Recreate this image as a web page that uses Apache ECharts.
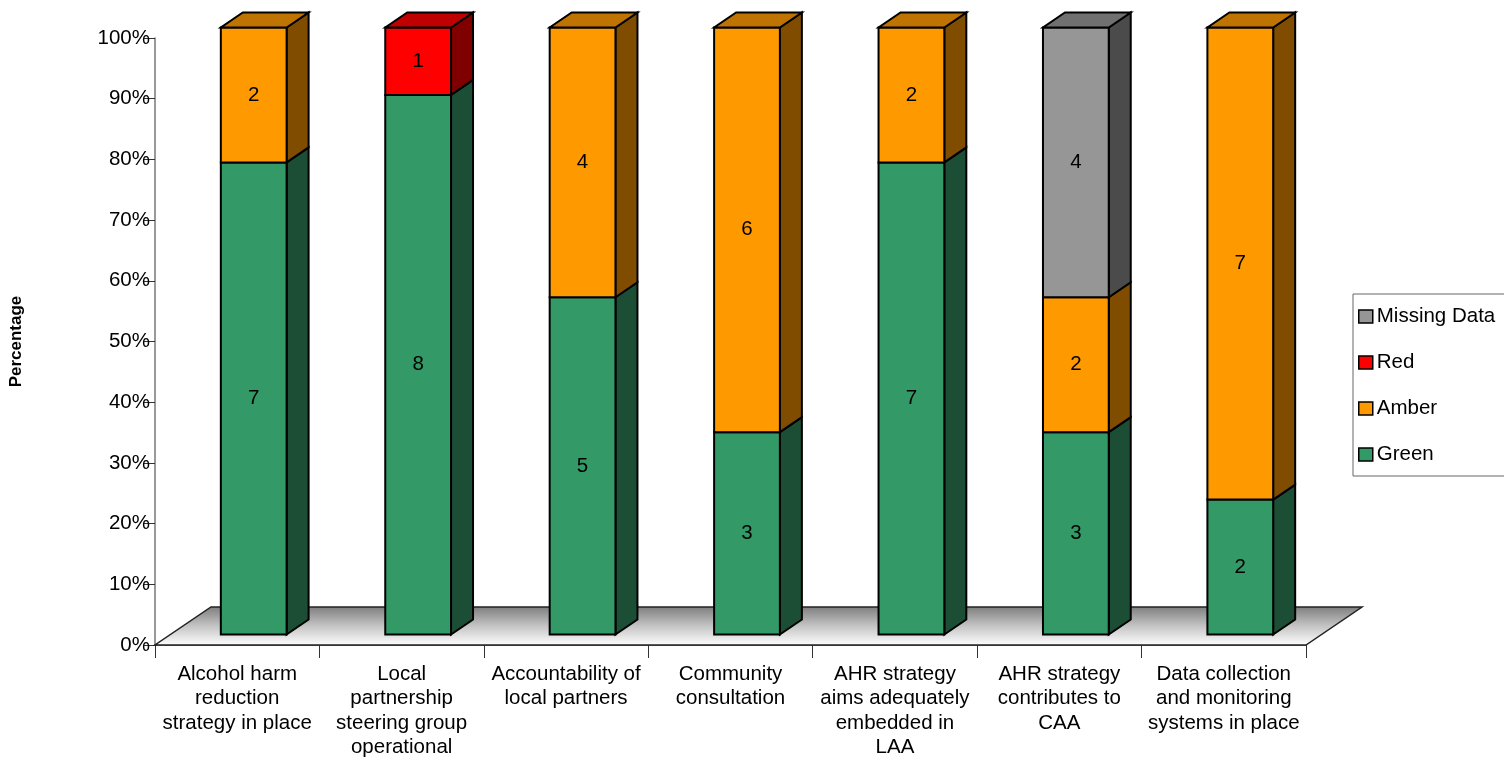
<!DOCTYPE html>
<html>
<head>
<meta charset="utf-8">
<style>html,body{margin:0;padding:0;background:#fff;overflow:hidden}#chart{width:1504px;height:760px}</style>
<script src="https://cdn.jsdelivr.net/npm/echarts@6/dist/echarts.min.js"></script>
</head>
<body>
<div id="chart"></div>
<script>
// Number of local areas in each rating, per strategy criterion
const categories = [
  "Alcohol harm\nreduction\nstrategy in place",
  "Local\npartnership\nsteering group\noperational",
  "Accountability of\nlocal partners",
  "Community\nconsultation",
  "AHR strategy\naims adequately\nembedded in\nLAA",
  "AHR strategy\ncontributes to\nCAA",
  "Data collection\nand monitoring\nsystems in place"
];
const green   = [7, 8, 5, 3, 7, 3, 2];
const amber   = [2, 0, 4, 6, 2, 2, 7];
const red     = [0, 1, 0, 0, 0, 0, 0];
const missing = [0, 0, 0, 0, 0, 4, 0];
const legendOrder = ["Missing Data", "Red", "Amber", "Green"];

const layers = [
  { name: "Green", values: green, front: "#339966", side: "#1C4D35", top: "#267350" },
  { name: "Amber", values: amber, front: "#FF9900", side: "#804D00", top: "#BF7300" },
  { name: "Red", values: red, front: "#FF0000", side: "#800000", top: "#BF0000" },
  { name: "Missing Data", values: missing, front: "#969696", side: "#4B4B4B", top: "#707070" }
];

const FONT = '"Liberation Sans", Arial, sans-serif';
const LABEL_SIZE = 20.5;
const EDGE = { stroke: "#000", lineWidth: 2, lineJoin: "miter" };
// Oblique projection used for the pseudo-3D columns and the floor
const FRONT_SHIFT = [16.5, -10.5];
const DEPTH = [22, -15];
const FLOOR_DEPTH = [56, -38];

const totals = categories.map((_, i) => layers.reduce((s, l) => s + l.values[i], 0));

function share(layerIndex, i, upTo) {
  let sum = 0;
  for (let k = 0; k <= upTo; k++) sum += layers[k].values[i];
  return sum / totals[i] * 100;
}

function polygon(points, fill, extra) {
  return { type: "polygon", shape: { points }, style: Object.assign({ fill }, EDGE, extra || {}) };
}

function columnSegment(layerIndex) {
  const layer = layers[layerIndex];
  return function (params, api) {
    const i = api.value(0);
    const count = layer.values[i];
    if (!count) return null;
    const lowShare = layerIndex ? share(layerIndex, i, layerIndex - 1) : 0;
    const highShare = share(layerIndex, i, layerIndex);
    const base = api.coord([i, lowShare]);
    const head = api.coord([i, highShare]);
    const half = api.size([1, 0])[0] * 0.2;
    const x0 = base[0] + FRONT_SHIFT[0] - half;
    const x1 = base[0] + FRONT_SHIFT[0] + half;
    const yLow = base[1] + FRONT_SHIFT[1];
    const yHigh = head[1] + FRONT_SHIFT[1];
    const children = [
      polygon([[x1, yLow], [x1 + DEPTH[0], yLow + DEPTH[1]], [x1 + DEPTH[0], yHigh + DEPTH[1]], [x1, yHigh]], layer.side),
      polygon([[x0, yLow], [x1, yLow], [x1, yHigh], [x0, yHigh]], layer.front)
    ];
    if (highShare >= 99.999) {
      children.push(polygon([[x0, yHigh], [x1, yHigh], [x1 + DEPTH[0], yHigh + DEPTH[1]], [x0 + DEPTH[0], yHigh + DEPTH[1]]], layer.top));
    }
    children.push({
      type: "text",
      style: {
        text: String(count), x: (x0 + x1) / 2, y: (yLow + yHigh) / 2,
        align: "center", verticalAlign: "middle",
        fill: "#000", font: `${LABEL_SIZE}px ${FONT}`
      }
    });
    return { type: "group", children };
  };
}

function floor(params) {
  const c = params.coordSys;
  const left = c.x, right = c.x + c.width, y = c.y + c.height;
  const pts = [[left, y], [right, y], [right + FLOOR_DEPTH[0], y + FLOOR_DEPTH[1]], [left + FLOOR_DEPTH[0], y + FLOOR_DEPTH[1]]];
  return {
    type: "polygon",
    shape: { points: pts },
    style: {
      stroke: "#222", lineWidth: 1.5,
      fill: new echarts.graphic.LinearGradient(0, 0, 0, 1, [
        { offset: 0, color: "#7d7d7d" },
        { offset: 0.5, color: "#c4c4c4" },
        { offset: 1, color: "#ffffff" }
      ])
    }
  };
}

const chart = echarts.init(document.getElementById("chart"), null, { renderer: "canvas" });
chart.setOption({
  animation: false,
  backgroundColor: "#fff",
  textStyle: { fontFamily: FONT },
  grid: { left: 153, right: 198, top: 38, bottom: 113, containLabel: false },
  legend: {
    data: legendOrder,
    orient: "vertical",
    left: 1353,
    top: 294,
    padding: [12, 30, 11, 5],
    itemGap: 25,
    itemWidth: 14,
    itemHeight: 13,
    icon: "rect",
    selectedMode: false,
    borderColor: "#666",
    borderWidth: 1,
    backgroundColor: "#fff",
    itemStyle: { borderColor: "#000", borderWidth: 1.5 },
    textStyle: { fontFamily: FONT, fontSize: LABEL_SIZE, color: "#000", padding: [0, 0, 0, -1] }
  },
  xAxis: {
    type: "category",
    data: categories,
    axisLine: { lineStyle: { color: "#444", width: 1.5 } },
    axisTick: { show: true, length: 13, alignWithLabel: false, lineStyle: { color: "#333", width: 1 } },
    axisLabel: { interval: 0, margin: 17, color: "#000", fontFamily: FONT, fontSize: LABEL_SIZE, lineHeight: 24.5, hideOverlap: false }
  },
  yAxis: {
    type: "value",
    min: 0,
    max: 100,
    interval: 10,
    name: "Percentage",
    nameLocation: "middle",
    nameGap: 130,
    nameRotate: 90,
    nameTextStyle: { fontFamily: FONT, fontSize: 17, fontWeight: "bold", color: "#000" },
    axisLine: { show: true, lineStyle: { color: "#777", width: 1.5 } },
    axisTick: { show: true, length: 11, lineStyle: { color: "#333", width: 1 } },
    axisLabel: { margin: 5, color: "#000", fontFamily: FONT, fontSize: LABEL_SIZE, formatter: "{value}%" },
    splitLine: { show: false }
  },
  series: [
    { name: "Floor", type: "custom", silent: true, z: 1, renderItem: floor, data: [0], clip: false, encode: { x: 0, y: 0 } }
  ].concat(layers.map((layer, idx) => ({
    name: layer.name,
    type: "custom",
    z: 3 + idx,
    silent: true,
    clip: false,
    itemStyle: { color: layer.front },
    renderItem: columnSegment(idx),
    data: categories.map((_, i) => [i, layer.values[i]]),
    encode: { x: 0, y: 1 }
  })))
});
</script>
</body>
</html>
